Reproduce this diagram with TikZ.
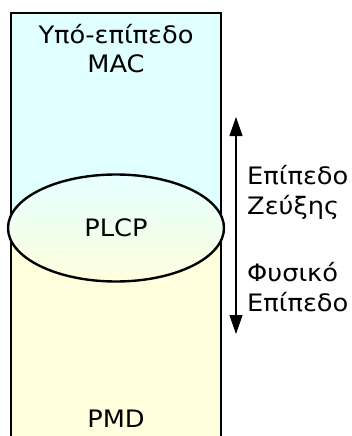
\documentclass[tikz,border=0pt]{standalone}
\usepackage{fontspec}
\setmainfont{DejaVu Sans}[FakeStretch=1.07]
\usetikzlibrary{shapes.geometric,arrows.meta}
\definecolor{macfill}{HTML}{E0FFFF}
\definecolor{phyfill}{HTML}{FFFFDD}
\tikzset{
  lbl/.style={font=\fontsize{24}{29}\selectfont, inner sep=0pt, align=center},
  rlbl/.style={font=\fontsize{24}{30}\selectfont, inner sep=0pt, align=left, anchor=west},
}
\begin{document}
\begin{tikzpicture}[x=1pt,y=-1pt]
\useasboundingbox (0,0) rectangle (352,436);
\clip (0,0) rectangle (352,436);
% coloured column
\fill[macfill] (11,13) rectangle (221,228);
\fill[phyfill] (11,228) rectangle (221,445);
\draw[line width=2.2pt] (11,445) -- (11,13) -- (221,13) -- (221,445);
% ellipse
\node[ellipse, draw, line width=2.4pt, minimum width=216, minimum height=107,
      top color=macfill!80!white, bottom color=phyfill, middle color=phyfill!50!macfill, inner sep=0pt]
      (plcp) at (116,228) {};
\node[lbl] (plcpt) at (116,228) {PLCP};
\node[lbl] (mac) at (116,49) {Υπό-επίπεδο\\MAC};
\node[lbl] (pmd) at (116,419) {PMD};
% arrow
\coordinate (atop) at (236,117);
\coordinate (abot) at (236,334);
\draw[line width=1.2pt, {Triangle[length=19pt,width=13pt]}-{Triangle[length=19pt,width=13pt]}] (atop) -- (abot);
\node[rlbl] (dl) at (247,192) {Επίπεδο\\Ζεύξης};
\node[rlbl] (phy) at (247,287) {Φυσικό\\Επίπεδο};
\end{tikzpicture}
\end{document}
